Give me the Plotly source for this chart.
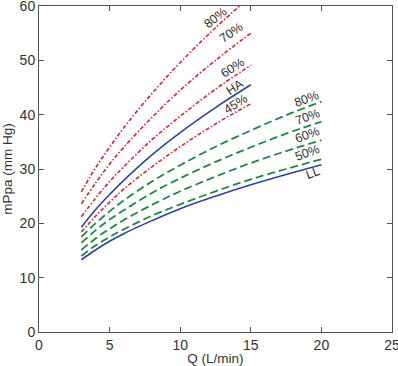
import plotly.graph_objects as go

# Flow values (L/min)
q_ha = [3, 4, 5, 6, 8, 10, 12.5, 15]
q_ll = [3, 4, 5, 6, 8, 10, 12.5, 15, 17.5, 20]

# High-altitude family (red dash-dot) and HA curve (blue)
red_80 = [25.8, 30.2, 34.0, 37.6, 43.9, 49.6, 56.0, 61.8]
red_70 = [23.6, 27.4, 30.9, 34.0, 39.5, 44.5, 50.0, 55.0]
red_60 = [21.2, 24.6, 27.7, 30.4, 35.4, 39.7, 44.7, 49.1]
ha = [19.3, 22.5, 25.3, 27.9, 32.6, 36.7, 41.3, 45.5]
red_45 = [18.4, 21.3, 23.9, 26.3, 30.4, 34.1, 38.3, 42.0]

# Low-land family (green dashed) and LL curve (blue)
green_80 = [17.5, 20.0, 22.2, 24.2, 27.7, 30.7, 34.1, 37.1, 39.9, 42.4]
green_70 = [16.4, 18.7, 20.7, 22.4, 25.6, 28.3, 31.3, 34.0, 36.5, 38.7]
green_60 = [15.1, 17.2, 19.0, 20.6, 23.4, 25.9, 28.6, 31.1, 33.3, 35.3]
green_50 = [14.0, 15.9, 17.5, 18.9, 21.4, 23.5, 25.9, 28.1, 30.0, 31.8]
ll = [13.3, 15.1, 16.7, 18.1, 20.5, 22.7, 25.0, 27.1, 29.0, 30.8]

# Curve labels: text, x, y, angle
label_text = ["80%", "70%", "60%", "HA", "45%", "80%", "70%", "60%", "50%", "LL"]
label_x = [12.5, 13.6, 13.7, 13.9, 13.95, 18.95, 19.0, 19.0, 19.0, 19.4]
label_y = [57.8, 55.0, 48.6, 45.1, 42.0, 42.9, 39.6, 36.2, 32.9, 29.2]
label_angle = [-38, -35, -33, -33, -32, -20, -20, -20, -20, -20]

RED = "#e2232e"
GREEN = "#1c8a3e"
BLUE = "#2b44a0"
red_dash = "4px,2px,1.5px,2px"
green_dash = "8px,4px"
FONT = "Liberation Sans, Arial"

fig = go.Figure()
for ys in [red_80, red_70, red_60, red_45]:
    fig.add_trace(go.Scatter(x=q_ha, y=ys, mode="lines", line_shape="spline",
                             line=dict(color=RED, width=1.6, dash=red_dash)))
fig.add_trace(go.Scatter(x=q_ha, y=ha, mode="lines", line_shape="spline",
                         line=dict(color=BLUE, width=1.6)))
for ys in [green_80, green_70, green_60, green_50]:
    fig.add_trace(go.Scatter(x=q_ll, y=ys, mode="lines", line_shape="spline",
                             line=dict(color=GREEN, width=1.8, dash=green_dash)))
fig.add_trace(go.Scatter(x=q_ll, y=ll, mode="lines", line_shape="spline",
                         line=dict(color=BLUE, width=1.6)))

for t, x, y, a in zip(label_text, label_x, label_y, label_angle):
    fig.add_annotation(x=x, y=y, text=t, textangle=a, showarrow=False,
                       font=dict(family=FONT, size=12.5, color="#333333"))

axis_common = dict(showgrid=False, zeroline=False, showline=True, linecolor="#555555",
                   linewidth=1, mirror="ticks", ticks="inside", ticklen=5,
                   tickcolor="#555555", automargin=False, ticklabeloverflow="allow",
                   tickfont=dict(family=FONT, size=14, color="#333333"),
                   title_font=dict(family=FONT, size=13.5, color="#333333"))

fig.update_xaxes(range=[0, 25], tickvals=[0, 5, 10, 15, 20, 25], title_text="Q (L/min)",
                 title_standoff=0, **axis_common)
fig.update_yaxes(range=[0, 60], tickvals=[0, 10, 20, 30, 40, 50, 60], title_text="mPpa (mm Hg)",
                 title_standoff=4, **axis_common)

fig.update_layout(width=398, height=366, showlegend=False,
                  margin=dict(l=39, r=6, t=6, b=34),
                  paper_bgcolor="white", plot_bgcolor="white")

fig.write_html("out.html", config={"displayModeBar": False},
               post_script="document.body.style.margin='0';")
